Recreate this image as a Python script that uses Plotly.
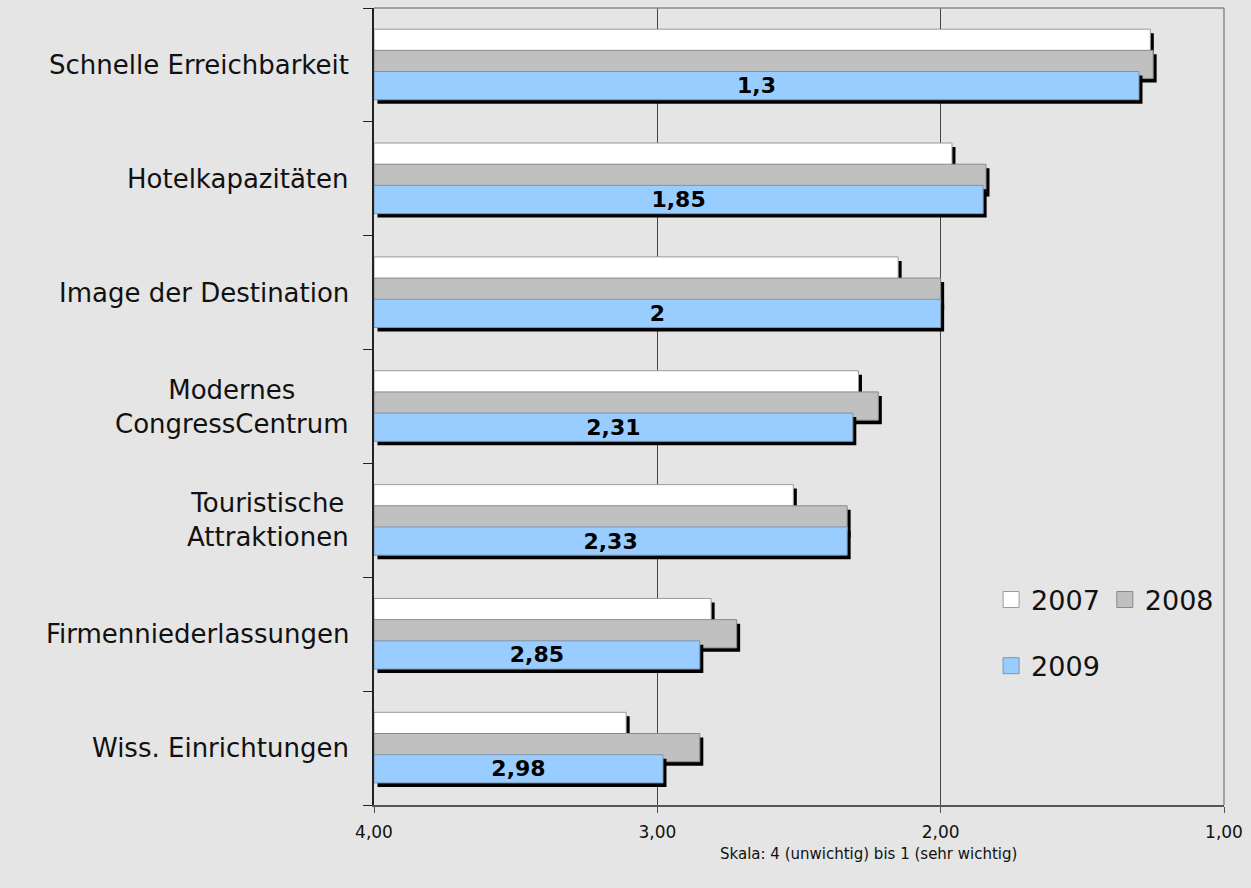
import plotly.graph_objects as go

categories = [
    "Schnelle Erreichbarkeit",
    "Hotelkapazitäten",
    "Image der Destination",
    "Modernes<br>CongressCentrum",
    "Touristische<br>Attraktionen",
    "Firmenniederlassungen",
    "Wiss. Einrichtungen",
]
years = ["2007", "2008", "2009"]
v2007 = [1.26, 1.96, 2.15, 2.29, 2.52, 2.81, 3.11]
v2008 = [1.25, 1.84, 2.00, 2.22, 2.33, 2.72, 2.85]
v2009 = [1.30, 1.85, 2.00, 2.31, 2.33, 2.85, 2.98]
x_ticks = [4, 3, 2, 1]
axis_title = "Skala: 4 (unwichtig) bis 1 (sehr wichtig)"

BASE = 4.0
FONT = "DejaVu Sans, Verdana, sans-serif"
BG = "#e4e5e4"
colors = {"2007": "#ffffff", "2008": "#c0c0c0", "2009": "#99ccff"}
outline = {"2007": "#9a9a9a", "2008": "#8a8a8a", "2009": "#7f95ab"}
offsets = {"2007": -0.314, "2008": -0.128, "2009": 0.058}
BW = 0.248
DX = 0.0123  # shadow shift (value units)
DY = 0.035   # shadow shift (category units)

ypos = list(range(len(categories)))
series = {"2007": v2007, "2008": v2008, "2009": v2009}


def fmt(v):
    return f"{v:g}".replace(".", ",")


fig = go.Figure()
for yr in years:
    vals = series[yr]
    # shadow
    fig.add_trace(go.Bar(
        y=ypos, x=[v - BASE for v in vals], base=BASE - DX, orientation="h",
        offset=offsets[yr] + DY, width=BW,
        marker=dict(color="#000000", line=dict(width=0)),
        showlegend=False, hoverinfo="skip",
    ))
    # bar
    fig.add_trace(go.Bar(
        y=ypos, x=[v - BASE for v in vals], base=BASE, orientation="h",
        offset=offsets[yr], width=BW,
        marker=dict(color=colors[yr], line=dict(color=outline[yr], width=1)),
        text=[fmt(v) for v in vals] if yr == "2009" else None,
        textposition="inside" if yr == "2009" else "none",
        insidetextanchor="middle", textangle=0, constraintext="none",
        textfont=dict(family=FONT, size=22, color="black", weight="bold"),
        name=yr, showlegend=False,
        hovertemplate="%{y}: %{text}<extra>" + yr + "</extra>",
    ))

# legend entries
for yr in years:
    fig.add_trace(go.Scatter(
        x=[None], y=[None], mode="markers", name=yr,
        marker=dict(symbol="square", size=18, color=colors[yr],
                    line=dict(color=outline[yr], width=1)),
        legend="legend2" if yr == "2009" else "legend",
    ))

for i, c in enumerate(categories):
    fig.add_annotation(
        x=-0.027, xref="paper", y=i, yref="y", text=c, showarrow=False,
        xanchor="right", yanchor="middle", align="center",
        font=dict(family=FONT, size=26, color="#111111"),
    )

fig.add_annotation(
    x=0.582, xref="paper", y=-0.062, yref="paper", text=axis_title,
    showarrow=False, xanchor="center", yanchor="middle",
    font=dict(family=FONT, size=15, color="#111111"),
)

# top / right frame
fig.add_shape(type="line", xref="paper", yref="paper", x0=0, x1=1, y0=1, y1=1,
              line=dict(color="#8a8a8a", width=1.5))
fig.add_shape(type="line", xref="paper", yref="paper", x0=1, x1=1, y0=0, y1=1,
              line=dict(color="#8a8a8a", width=1.5))

fig.update_layout(
    width=1251, height=888,
    margin=dict(l=374, r=25, t=8, b=83),
    paper_bgcolor=BG, plot_bgcolor=BG,
    barmode="overlay",
    separators=", ",
    font=dict(family=FONT, color="#111111"),
    legend=dict(orientation="h", x=0.726, y=0.288, xanchor="left", yanchor="top",
                bgcolor="rgba(0,0,0,0)", font=dict(family=FONT, size=27, color="#111111"),
                itemsizing="trace"),
    legend2=dict(orientation="h", x=0.726, y=0.205, xanchor="left", yanchor="top",
                 bgcolor="rgba(0,0,0,0)", font=dict(family=FONT, size=27, color="#111111"),
                 itemsizing="trace"),
    xaxis=dict(
        range=[4, 1], tickvals=x_ticks, tickformat=".2f",
        showgrid=True, gridcolor="#444444", gridwidth=1, zeroline=False,
        showline=True, linecolor="#555555", linewidth=1.5,
        ticks="outside", ticklen=6, tickcolor="#555555",
        ticklabelstandoff=5,
        tickfont=dict(family=FONT, size=17, color="#111111"),
    ),
    yaxis=dict(
        range=[len(categories) - 0.5, -0.5],
        tickvals=[i - 0.5 for i in range(len(categories) + 1)],
        showticklabels=False, showgrid=False, zeroline=False,
        showline=True, linecolor="#222222", linewidth=1.5,
        ticks="outside", ticklen=9, tickcolor="#222222",
    ),
)

fig.write_html(
    "out.html",
    config={"displayModeBar": False},
    post_script="document.body.style.margin='0';document.body.style.background='" + BG + "';",
)
